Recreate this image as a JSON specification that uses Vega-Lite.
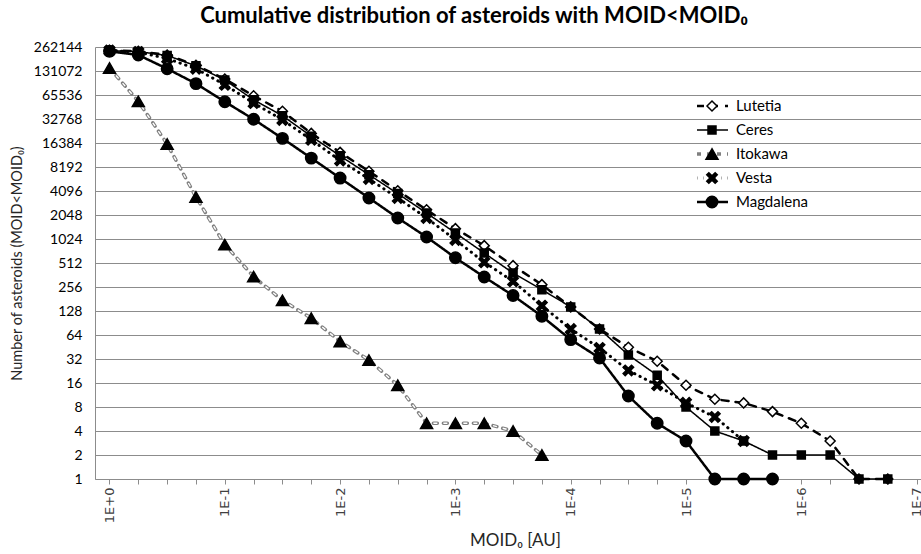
{
  "$schema": "https://vega.github.io/schema/vega-lite/v6.json",
  "width": 826,
  "height": 432,
  "autosize": {"type": "none"},
  "padding": {"left": 95, "top": 47, "right": 0, "bottom": 75},
  "background": "white",
  "title": {"text": "Cumulative distribution of asteroids  with MOID<MOID₀", "font": "Lato", "fontSize": 22, "fontWeight": "bold", "color": "black", "anchor": "middle", "frame": "group", "dx": -34, "offset": 12},
  "config": {"view": {"stroke": null}, "font": "Lato"},
  "data": {"values": [
    {"asteroid": "Lutetia", "moid": 1, "n": 238000},
    {"asteroid": "Lutetia", "moid": 0.562341, "n": 232000},
    {"asteroid": "Lutetia", "moid": 0.316228, "n": 208000},
    {"asteroid": "Lutetia", "moid": 0.177828, "n": 155000},
    {"asteroid": "Lutetia", "moid": 0.1, "n": 104000},
    {"asteroid": "Lutetia", "moid": 0.0562341, "n": 64000},
    {"asteroid": "Lutetia", "moid": 0.0316228, "n": 41000},
    {"asteroid": "Lutetia", "moid": 0.0177828, "n": 21600},
    {"asteroid": "Lutetia", "moid": 0.01, "n": 12500},
    {"asteroid": "Lutetia", "moid": 0.00562341, "n": 7250},
    {"asteroid": "Lutetia", "moid": 0.00316228, "n": 4130},
    {"asteroid": "Lutetia", "moid": 0.00177828, "n": 2380},
    {"asteroid": "Lutetia", "moid": 0.001, "n": 1380},
    {"asteroid": "Lutetia", "moid": 0.000562341, "n": 845},
    {"asteroid": "Lutetia", "moid": 0.000316228, "n": 474},
    {"asteroid": "Lutetia", "moid": 0.000177828, "n": 274},
    {"asteroid": "Lutetia", "moid": 0.0001, "n": 144},
    {"asteroid": "Lutetia", "moid": 0.0000562341, "n": 76},
    {"asteroid": "Lutetia", "moid": 0.0000316228, "n": 45},
    {"asteroid": "Lutetia", "moid": 0.0000177828, "n": 30},
    {"asteroid": "Lutetia", "moid": 0.00001, "n": 15},
    {"asteroid": "Lutetia", "moid": 0.00000562341, "n": 10},
    {"asteroid": "Lutetia", "moid": 0.00000316228, "n": 9},
    {"asteroid": "Lutetia", "moid": 0.00000177828, "n": 7},
    {"asteroid": "Lutetia", "moid": 0.000001, "n": 5},
    {"asteroid": "Lutetia", "moid": 5.62341e-7, "n": 3},
    {"asteroid": "Lutetia", "moid": 3.16228e-7, "n": 1},
    {"asteroid": "Lutetia", "moid": 1.77828e-7, "n": 1},
    {"asteroid": "Ceres", "moid": 1, "n": 236000},
    {"asteroid": "Ceres", "moid": 0.562341, "n": 230000},
    {"asteroid": "Ceres", "moid": 0.316228, "n": 205000},
    {"asteroid": "Ceres", "moid": 0.177828, "n": 152000},
    {"asteroid": "Ceres", "moid": 0.1, "n": 101000},
    {"asteroid": "Ceres", "moid": 0.0562341, "n": 57000},
    {"asteroid": "Ceres", "moid": 0.0316228, "n": 36000},
    {"asteroid": "Ceres", "moid": 0.0177828, "n": 19900},
    {"asteroid": "Ceres", "moid": 0.01, "n": 11300},
    {"asteroid": "Ceres", "moid": 0.00562341, "n": 6560},
    {"asteroid": "Ceres", "moid": 0.00316228, "n": 3800},
    {"asteroid": "Ceres", "moid": 0.00177828, "n": 2170},
    {"asteroid": "Ceres", "moid": 0.001, "n": 1220},
    {"asteroid": "Ceres", "moid": 0.000562341, "n": 683},
    {"asteroid": "Ceres", "moid": 0.000316228, "n": 383},
    {"asteroid": "Ceres", "moid": 0.000177828, "n": 237},
    {"asteroid": "Ceres", "moid": 0.0001, "n": 144},
    {"asteroid": "Ceres", "moid": 0.0000562341, "n": 76},
    {"asteroid": "Ceres", "moid": 0.0000316228, "n": 36},
    {"asteroid": "Ceres", "moid": 0.0000177828, "n": 20},
    {"asteroid": "Ceres", "moid": 0.00001, "n": 8},
    {"asteroid": "Ceres", "moid": 0.00000562341, "n": 4},
    {"asteroid": "Ceres", "moid": 0.00000316228, "n": 3},
    {"asteroid": "Ceres", "moid": 0.00000177828, "n": 2},
    {"asteroid": "Ceres", "moid": 0.000001, "n": 2},
    {"asteroid": "Ceres", "moid": 5.62341e-7, "n": 2},
    {"asteroid": "Ceres", "moid": 3.16228e-7, "n": 1},
    {"asteroid": "Ceres", "moid": 1.77828e-7, "n": 1},
    {"asteroid": "Itokawa", "moid": 1, "n": 143000},
    {"asteroid": "Itokawa", "moid": 0.562341, "n": 54600},
    {"asteroid": "Itokawa", "moid": 0.316228, "n": 15900},
    {"asteroid": "Itokawa", "moid": 0.177828, "n": 3450},
    {"asteroid": "Itokawa", "moid": 0.1, "n": 870},
    {"asteroid": "Itokawa", "moid": 0.0562341, "n": 345},
    {"asteroid": "Itokawa", "moid": 0.0316228, "n": 174},
    {"asteroid": "Itokawa", "moid": 0.0177828, "n": 104},
    {"asteroid": "Itokawa", "moid": 0.01, "n": 53},
    {"asteroid": "Itokawa", "moid": 0.00562341, "n": 31},
    {"asteroid": "Itokawa", "moid": 0.00316228, "n": 15},
    {"asteroid": "Itokawa", "moid": 0.00177828, "n": 5},
    {"asteroid": "Itokawa", "moid": 0.001, "n": 5},
    {"asteroid": "Itokawa", "moid": 0.000562341, "n": 5},
    {"asteroid": "Itokawa", "moid": 0.000316228, "n": 4},
    {"asteroid": "Itokawa", "moid": 0.000177828, "n": 2},
    {"asteroid": "Vesta", "moid": 1, "n": 236000},
    {"asteroid": "Vesta", "moid": 0.562341, "n": 226000},
    {"asteroid": "Vesta", "moid": 0.316228, "n": 188000},
    {"asteroid": "Vesta", "moid": 0.177828, "n": 140000},
    {"asteroid": "Vesta", "moid": 0.1, "n": 88000},
    {"asteroid": "Vesta", "moid": 0.0562341, "n": 52000},
    {"asteroid": "Vesta", "moid": 0.0316228, "n": 32000},
    {"asteroid": "Vesta", "moid": 0.0177828, "n": 18000},
    {"asteroid": "Vesta", "moid": 0.01, "n": 9900},
    {"asteroid": "Vesta", "moid": 0.00562341, "n": 5800},
    {"asteroid": "Vesta", "moid": 0.00316228, "n": 3350},
    {"asteroid": "Vesta", "moid": 0.00177828, "n": 1880},
    {"asteroid": "Vesta", "moid": 0.001, "n": 1000},
    {"asteroid": "Vesta", "moid": 0.000562341, "n": 523},
    {"asteroid": "Vesta", "moid": 0.000316228, "n": 302},
    {"asteroid": "Vesta", "moid": 0.000177828, "n": 149},
    {"asteroid": "Vesta", "moid": 0.0001, "n": 76},
    {"asteroid": "Vesta", "moid": 0.0000562341, "n": 44},
    {"asteroid": "Vesta", "moid": 0.0000316228, "n": 23},
    {"asteroid": "Vesta", "moid": 0.0000177828, "n": 15},
    {"asteroid": "Vesta", "moid": 0.00001, "n": 9},
    {"asteroid": "Vesta", "moid": 0.00000562341, "n": 6},
    {"asteroid": "Vesta", "moid": 0.00000316228, "n": 3},
    {"asteroid": "Magdalena", "moid": 1, "n": 232000},
    {"asteroid": "Magdalena", "moid": 0.562341, "n": 208000},
    {"asteroid": "Magdalena", "moid": 0.316228, "n": 140000},
    {"asteroid": "Magdalena", "moid": 0.177828, "n": 91000},
    {"asteroid": "Magdalena", "moid": 0.1, "n": 54000},
    {"asteroid": "Magdalena", "moid": 0.0562341, "n": 32500},
    {"asteroid": "Magdalena", "moid": 0.0316228, "n": 18700},
    {"asteroid": "Magdalena", "moid": 0.0177828, "n": 10600},
    {"asteroid": "Magdalena", "moid": 0.01, "n": 5950},
    {"asteroid": "Magdalena", "moid": 0.00562341, "n": 3350},
    {"asteroid": "Magdalena", "moid": 0.00316228, "n": 1880},
    {"asteroid": "Magdalena", "moid": 0.00177828, "n": 1085},
    {"asteroid": "Magdalena", "moid": 0.001, "n": 595},
    {"asteroid": "Magdalena", "moid": 0.000562341, "n": 342},
    {"asteroid": "Magdalena", "moid": 0.000316228, "n": 200},
    {"asteroid": "Magdalena", "moid": 0.000177828, "n": 110},
    {"asteroid": "Magdalena", "moid": 0.0001, "n": 56},
    {"asteroid": "Magdalena", "moid": 0.0000562341, "n": 33},
    {"asteroid": "Magdalena", "moid": 0.0000316228, "n": 11},
    {"asteroid": "Magdalena", "moid": 0.0000177828, "n": 5},
    {"asteroid": "Magdalena", "moid": 0.00001, "n": 3},
    {"asteroid": "Magdalena", "moid": 0.00000562341, "n": 1},
    {"asteroid": "Magdalena", "moid": 0.00000316228, "n": 1},
    {"asteroid": "Magdalena", "moid": 0.00000177828, "n": 1}
  ]},
  "encoding": {
    "x": {
      "field": "moid", "type": "quantitative",
      "scale": {"type": "log", "domain": [9.162e-8, 1.3357], "reverse": true, "nice": false},
      "axis": {
        "title": "MOID₀ [AU]",
        "values": [1, 0.562341, 0.316228, 0.177828, 0.1, 0.0562341, 0.0316228, 0.0177828, 0.01, 0.00562341, 0.00316228, 0.00177828, 0.001, 0.000562341, 0.000316228, 0.000177828, 0.0001, 0.0000562341, 0.0000316228, 0.0000177828, 0.00001, 0.00000562341, 0.00000316228, 0.00000177828, 0.000001, 5.62341e-7, 3.16228e-7, 1.77828e-7, 1e-7],
        "labelExpr": "round(log(datum.value)/LN10*4) % 4 == 0 ? (datum.value > 0.9 ? '1E+0' : '1E-' + round(-log(datum.value)/LN10)) : ''",
        "labelAngle": -90, "labelFont": "DejaVu Sans", "labelFontSize": 13, "labelColor": "#404040",
        "labelPadding": 3, "labelFlush": false, "labelOverlap": false, "labelBound": false,
        "grid": false, "ticks": true, "tickSize": 5, "tickColor": "#8c8c8c", "domainColor": "#8c8c8c",
        "titleFont": "Lato", "titleFontSize": 17, "titleFontWeight": "normal", "titleColor": "#262626", "titlePadding": 10, "titleX": 420
      }
    },
    "y": {
      "field": "n", "type": "quantitative",
      "scale": {"type": "log", "base": 2, "domain": [1, 262144], "nice": false},
      "axis": {
        "title": "Number of asteroids (MOID<MOID₀)",
        "values": [1, 2, 4, 8, 16, 32, 64, 128, 256, 512, 1024, 2048, 4096, 8192, 16384, 32768, 65536, 131072, 262144],
        "format": "d", "grid": true, "gridColor": "#8c8c8c", "gridWidth": 1, "ticks": false,
        "labelPadding": 13, "labelFont": "Lato", "labelFontSize": 14, "labelColor": "black",
        "labelFlush": false, "labelOverlap": false, "domainColor": "#8c8c8c",
        "titleFont": "Lato", "titleFontSize": 14.5, "titleFontWeight": "normal", "titleColor": "#262626", "titlePadding": 9
      }
    }
  },
  "layer": [
    {
      "mark": {"type": "line", "strokeCap": "round", "strokeJoin": "round"},
      "encoding": {
        "stroke": {
          "field": "asteroid", "type": "nominal",
          "scale": {"domain": ["Lutetia", "Ceres", "Itokawa", "Vesta", "Magdalena"], "range": ["black", "black", "#7f7f7f", "black", "black"]},
          "legend": {"orient": "none", "legendX": 600, "legendY": 47, "title": null, "symbolType": "stroke", "symbolSize": 961, "labelFont": "Lato", "labelFontSize": 15, "labelColor": "black", "clipHeight": 24, "rowPadding": 0, "padding": 0, "labelOffset": 6}
        },
        "strokeDash": {
          "field": "asteroid", "type": "nominal",
          "scale": {"domain": ["Lutetia", "Ceres", "Itokawa", "Vesta", "Magdalena"], "range": [[7, 7], [1, 0], [4, 6], [0.3, 5.7], [1, 0]]},
          "legend": {"orient": "none", "legendX": 600, "legendY": 47, "title": null, "symbolType": "stroke", "symbolSize": 961, "labelFont": "Lato", "labelFontSize": 15, "labelColor": "black", "clipHeight": 24, "rowPadding": 0, "padding": 0, "labelOffset": 6}
        },
        "strokeWidth": {
          "field": "asteroid", "type": "nominal",
          "scale": {"type": "ordinal", "domain": ["Lutetia", "Ceres", "Itokawa", "Vesta", "Magdalena"], "range": [2.5, 1.5, 3.5, 3, 2.5]},
          "legend": {"orient": "none", "legendX": 600, "legendY": 47, "title": null, "symbolType": "stroke", "symbolSize": 961, "labelFont": "Lato", "labelFontSize": 15, "labelColor": "black", "clipHeight": 24, "rowPadding": 0, "padding": 0, "labelOffset": 6}
        }
      }
    },
    {
      "transform": [{"filter": "datum.asteroid === 'Itokawa'"}],
      "mark": {"type": "line", "stroke": "white", "strokeWidth": 1.4, "strokeDash": [4, 6], "strokeCap": "butt"},
      "encoding": {}
    },
    {
      "mark": {"type": "point", "filled": true, "stroke": "black", "strokeWidth": 1.5, "opacity": 1},
      "encoding": {
        "shape": {
          "field": "asteroid", "type": "nominal",
          "scale": {"domain": ["Lutetia", "Ceres", "Itokawa", "Vesta", "Magdalena", "Magdalena"], "range": ["diamond", "square", "triangle-up", "M-1,-0.6L-0.6,-1L0,-0.4L0.6,-1L1,-0.6L0.4,0L1,0.6L0.6,1L0,0.4L-0.6,1L-1,0.6L-0.4,0Z", "circle"]},
          "legend": {"orient": "none", "legendX": 600, "legendY": 47, "title": null, "labelFont": "Lato", "labelFontSize": 15, "labelExpr": "''", "labelColor": "transparent", "clipHeight": 24, "rowPadding": 0, "padding": 0, "symbolOffset": 9.5, "encode": {"symbols": {"update": {"stroke": {"value": "black"}, "strokeWidth": {"value": 1.5}, "opacity": {"value": 1}}}}}
        },
        "fill": {
          "field": "asteroid", "type": "nominal",
          "scale": {"domain": ["Lutetia", "Ceres", "Itokawa", "Vesta", "Magdalena", "Magdalena"], "range": ["white", "black", "black", "black", "black"]},
          "legend": {"orient": "none", "legendX": 600, "legendY": 47, "title": null, "labelFont": "Lato", "labelFontSize": 15, "labelExpr": "''", "labelColor": "transparent", "clipHeight": 24, "rowPadding": 0, "padding": 0, "symbolOffset": 9.5, "encode": {"symbols": {"update": {"stroke": {"value": "black"}, "strokeWidth": {"value": 1.5}, "opacity": {"value": 1}}}}}
        },
        "size": {
          "field": "asteroid", "type": "nominal",
          "scale": {"type": "ordinal", "domain": ["Lutetia", "Ceres", "Itokawa", "Vesta", "Magdalena", "Magdalena"], "range": [100, 64, 144, 110, 130]},
          "legend": {"orient": "none", "legendX": 600, "legendY": 47, "title": null, "labelFont": "Lato", "labelFontSize": 15, "labelExpr": "''", "labelColor": "transparent", "clipHeight": 24, "rowPadding": 0, "padding": 0, "symbolOffset": 9.5, "encode": {"symbols": {"update": {"stroke": {"value": "black"}, "strokeWidth": {"value": 1.5}, "opacity": {"value": 1}}}}}
        }
      }
    }
  ]
}
